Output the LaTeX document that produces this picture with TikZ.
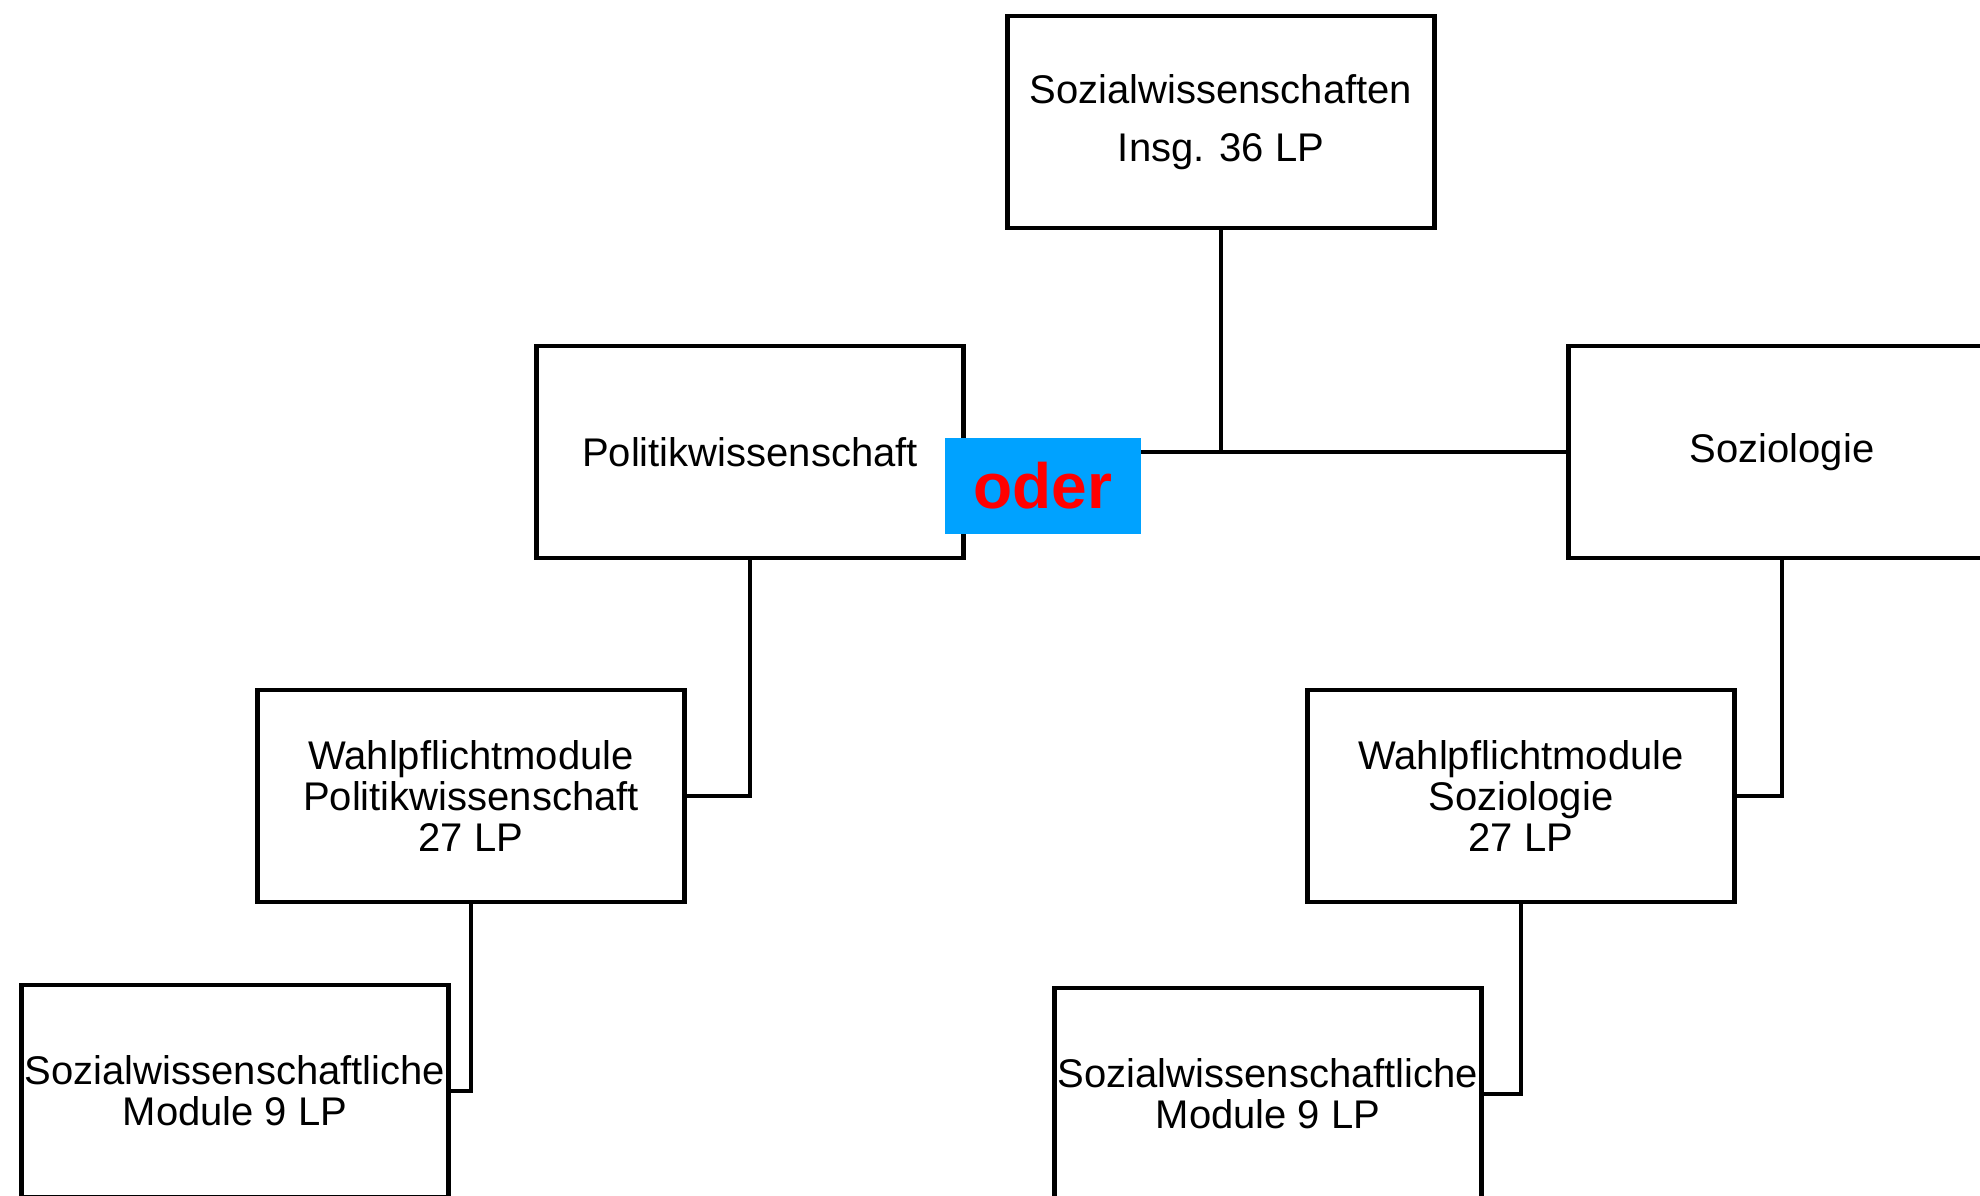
\documentclass[tikz,border=0pt]{standalone}
\usepackage{fontspec}
\setmainfont{Liberation Sans}
\usepackage{xcolor}
\definecolor{oderblue}{RGB}{0,162,255}
\definecolor{oderred}{RGB}{255,0,0}

\begin{document}
\begin{tikzpicture}[x=0.5pt, y=-0.5pt,
	modbox/.style={draw=black, line width=2.3pt, minimum width=213.5pt, minimum height=106pt, inner sep=0pt, align=center, font=\fontsize{20}{20.5}\selectfont},
	toplabel/.style={font=\fontsize{20}{29}\selectfont},
	link/.style={draw=black, line width=2.3pt},
	oderbox/.style={fill=oderblue, text=oderred, minimum width=98pt, minimum height=48pt, inner sep=0pt, font=\fontsize{32}{32}\selectfont\bfseries}]
	\useasboundingbox (0,0) rectangle (1980,1195);
	\clip (0,0) rectangle (1980,1195);
	\node[modbox, toplabel] (sowi) at (1221,122) {Sozialwissenschaften\\Insg. 36 LP};
	\node[modbox] (powi) at (750,452) {Politikwissenschaft};
	\node[modbox] (sozio) at (1782,452) {Soziologie};
	\node[modbox] (wpowi) at (471,796) {Wahlpflichtmodule\\Politikwissenschaft\\27 LP};
	\node[modbox] (wsozio) at (1521,796) {Wahlpflichtmodule\\Soziologie\\27 LP};
	\node[modbox] (mpowi) at (235,1091) {Sozialwissenschaftliche\\Module 9 LP};
	\node[modbox] (msozio) at (1268,1094) {Sozialwissenschaftliche\\Module 9 LP};
	\draw[link] (powi.east) -- (sozio.west);
	\draw[link] (sowi.south) -- (sowi.south |- sozio.west);
	\draw[link] (powi.south) |- (wpowi.east);
	\draw[link] (sozio.south) |- (wsozio.east);
	\draw[link] (wpowi.south) |- (mpowi.east);
	\draw[link] (wsozio.south) |- (msozio.east);
	\node[oderbox] (oder) at (1043,486) {oder};
\end{tikzpicture}
\end{document}
